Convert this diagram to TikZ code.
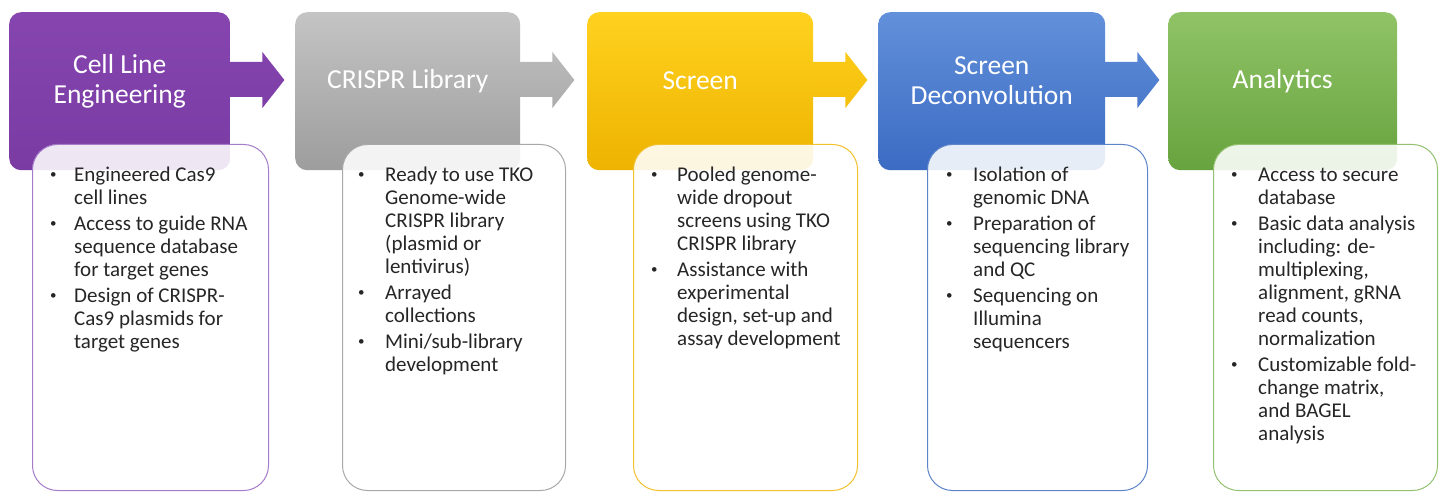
\documentclass[tikz,border=0pt]{standalone}
\usepackage{fontspec}
\setmainfont{Carlito}
\usetikzlibrary{calc}

% stage colours: top / bottom of the gradient, and the outline of the detail card
\definecolor{pTop}{HTML}{8645AF}\definecolor{pBot}{HTML}{7A3BA3}\definecolor{pLine}{HTML}{A57CC9}
\definecolor{gTop}{HTML}{C4C4C4}\definecolor{gBot}{HTML}{9D9D9D}\definecolor{gLine}{HTML}{A8A8A8}
\definecolor{yTop}{HTML}{FFD21F}\definecolor{yBot}{HTML}{EDB300}\definecolor{yLine}{HTML}{F2C12E}
\definecolor{bTop}{HTML}{6290DA}\definecolor{bBot}{HTML}{3B6BC3}\definecolor{bLine}{HTML}{5D84C9}
\definecolor{vTop}{HTML}{90C366}\definecolor{vBot}{HTML}{67A33F}\definecolor{vLine}{HTML}{92C170}
\definecolor{bodytext}{HTML}{262626}

% small list bullet
\newcommand\bul{\raisebox{3.5pt}{\fontsize{13}{13}\selectfont\textbullet}}

% block arrow leaving the right side of a stage box
\newcommand\blockarrow[3]{%
  \path[top color=#2!75!#3, bottom color=#2!39!#3]
    ($(#1.north east)+(-1,50)$) -- ++(33,0) -- ++(0,-10) -- ++(22,28)
    -- ++(-22,28) -- ++(0,-11) -- ++(-33,0) -- cycle;}

\tikzset{
  x=1pt, y=-1pt,
  stagebox/.style={rounded corners=12pt, minimum height=158pt, inner sep=0pt,
    anchor=north west},
  stagetitle/.style={text=white, align=center,
    font=\fontsize{27.5}{30}\selectfont},
  card/.style={rounded corners=25pt, fill=white, fill opacity=0.88,
    line width=1pt, minimum height=346pt, inner sep=0pt, anchor=north west},
  cardtext/.style={anchor=base west, inner sep=0pt, text=bodytext,
    font=\fontsize{21}{23}\selectfont},
}

\begin{document}
\begin{tikzpicture}
\fill[white] (0,0) rectangle (1440,494);
\useasboundingbox (0,0) rectangle (1440,494);

% ---- coloured stage boxes with their arrows
\node[stagebox, minimum width=221pt, top color=pTop, bottom color=pBot] (s1) at (9,12) {};
\node[stagebox, minimum width=225pt, top color=gTop, bottom color=gBot] (s2) at (295,12) {};
\node[stagebox, minimum width=226pt, top color=yTop, bottom color=yBot] (s3) at (587,12) {};
\node[stagebox, minimum width=227pt, top color=bTop, bottom color=bBot] (s4) at (878,12) {};
\node[stagebox, minimum width=229pt, top color=vTop, bottom color=vBot] (s5) at (1168,12) {};
\blockarrow{s1}{pTop}{pBot}
\blockarrow{s2}{gTop}{gBot}
\blockarrow{s3}{yTop}{yBot}
\blockarrow{s4}{bTop}{bBot}

% ---- stage titles
\node[stagetitle] (h1) at (s1.north |- 0,81) {Cell Line\\Engineering};
\node[stagetitle] (h2) at (s2.north |- 0,81) {CRISPR Library};
\node[stagetitle] (h3) at (s3.north |- 0,81) {Screen};
\node[stagetitle] (h4) at (s4.north |- 0,81) {Screen\\Deconvolution};
\node[stagetitle] (h5) at (s5.north |- 0,81) {Analytics};

% ---- detail cards
\node[card, draw=pLine, minimum width=236pt] (c1) at (32,144) {};
\node[card, draw=gLine, minimum width=223pt] (c2) at (342,144) {};
\node[card, draw=yLine, minimum width=224pt] (c3) at (633,144) {};
\node[card, draw=bLine, minimum width=220pt] (c4) at (927,144) {};
\node[card, draw=vLine, minimum width=224pt] (c5) at (1213,144) {};

\node[cardtext] (t1) at ($(c1.north west)+(18,38)$) {%
\begin{tabular}[t]{@{}p{24pt}@{}l@{}}
\bul & Engineered Cas9\\
     & cell lines\\[3pt]
\bul & Access to guide RNA\\
     & sequence database\\
     & for target genes\\[3pt]
\bul & Design of CRISPR-\\
     & Cas9 plasmids for\\
     & target genes
\end{tabular}};

\node[cardtext] (t2) at ($(c2.north west)+(16,38)$) {%
\begin{tabular}[t]{@{}p{27pt}@{}l@{}}
\bul & Ready to use TKO\\
     & Genome-wide\\
     & CRISPR library\\
     & (plasmid or\\
     & lentivirus)\\[3pt]
\bul & Arrayed\\
     & collections\\[3pt]
\bul & Mini/sub-library\\
     & development
\end{tabular}};

\node[cardtext] (t3) at ($(c3.north west)+(18,38)$) {%
\begin{tabular}[t]{@{}p{26pt}@{}l@{}}
\bul & Pooled genome-\\
     & wide dropout\\
     & screens using TKO\\
     & CRISPR library\\[3pt]
\bul & Assistance with\\
     & experimental\\
     & design, set-up and\\
     & assay development
\end{tabular}};

\node[cardtext] (t4) at ($(c4.north west)+(19,38)$) {%
\begin{tabular}[t]{@{}p{27pt}@{}l@{}}
\bul & Isolation of\\
     & genomic DNA\\[3pt]
\bul & Preparation of\\
     & sequencing library\\
     & and QC\\[3pt]
\bul & Sequencing on\\
     & Illumina\\
     & sequencers
\end{tabular}};

\node[cardtext] (t5) at ($(c5.north west)+(18,38)$) {%
\begin{tabular}[t]{@{}p{27pt}@{}l@{}}
\bul & Access to secure\\
     & database\\[3pt]
\bul & Basic data analysis\\
     & including: de-\\
     & multiplexing,\\
     & alignment, gRNA\\
     & read counts,\\
     & normalization\\[3pt]
\bul & Customizable fold-\\
     & change matrix,\\
     & and BAGEL\\
     & analysis
\end{tabular}};
\end{tikzpicture}
\end{document}
